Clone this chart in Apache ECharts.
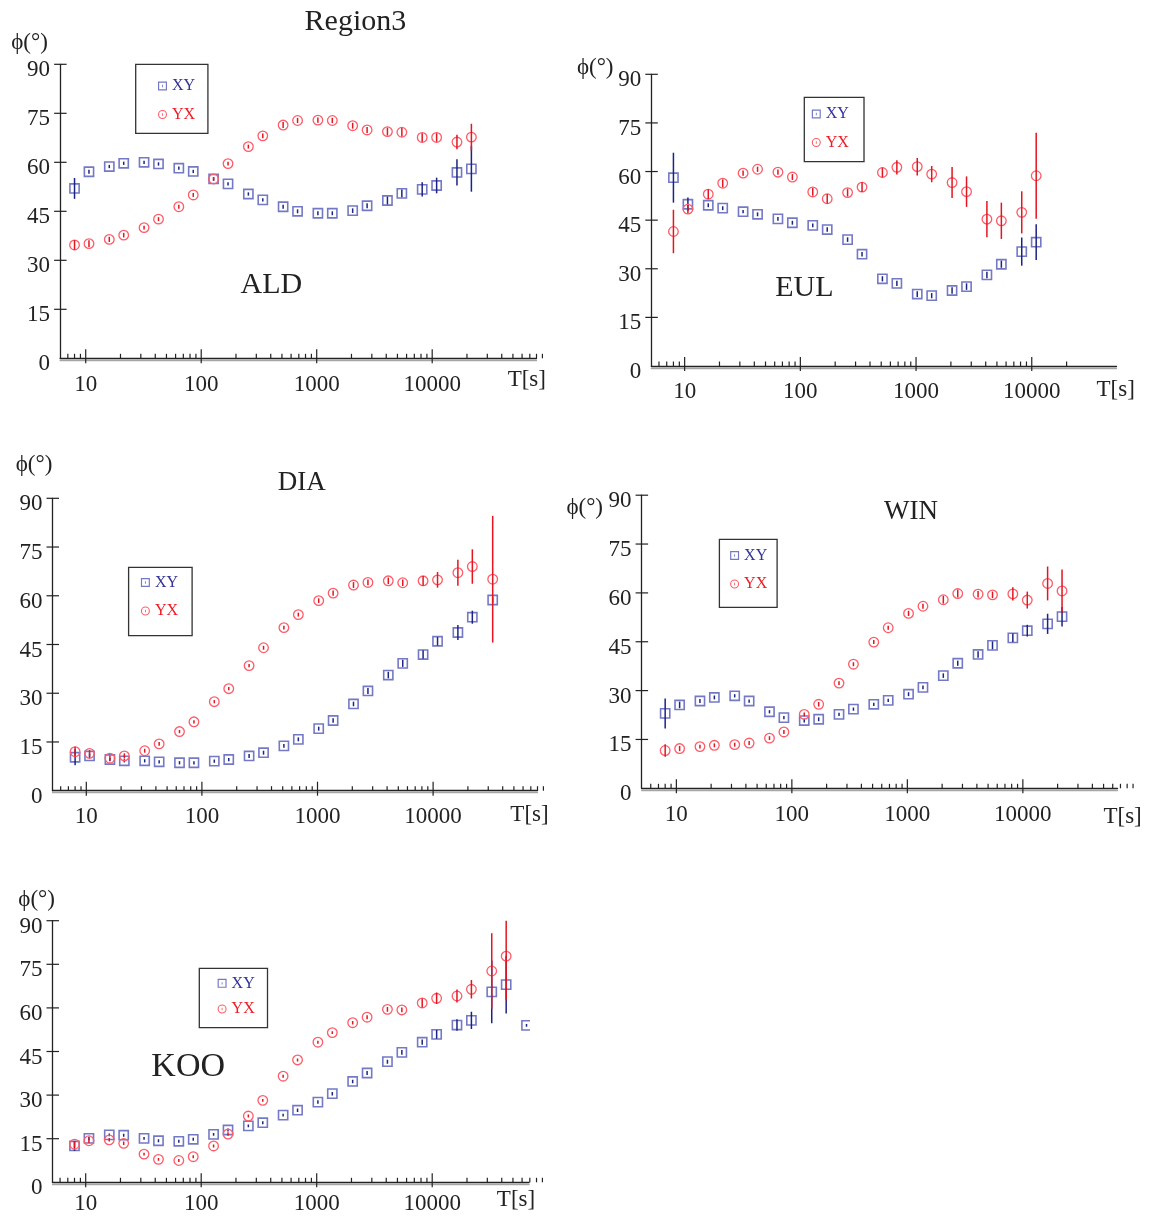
<!DOCTYPE html>
<html>
<head>
<meta charset="utf-8">
<title>Region3 phase</title>
<script src="https://cdn.jsdelivr.net/npm/echarts@6/dist/echarts.min.js"></script>
<style>
    html, body { margin: 0; padding: 0; background: #fff; }
    #chart { width: 1155px; height: 1216px; }
</style>
</head>
<body>
<div id="chart"></div>
<script>
// periods (s) shared by all stations
var periods = [8, 10.67, 16, 21.33, 32, 42.67, 64, 85.33, 128, 170.7, 256, 341.3, 512, 682.7,
    1024, 1365, 2048, 2731, 4096, 5461, 8192, 10923, 16384, 21845, 32768, 43691, 65536];
var yTicks = [0, 15, 30, 45, 60, 75, 90];

// ALD
var aldXY    = [52.0, 57.1, 58.7, 59.7, 60.0, 59.5, 58.2, 57.2, 54.9, 53.4, 50.3, 48.5, 46.4, 45.0, 44.4, 44.4, 45.2, 46.7, 48.3, 50.5, 51.7, 52.9, 56.9, 58.0];
var aldXYErr = [3.2, 0.6, 0.5, 0.5, 0.5, 0.5, 0.5, 0.5, 0.5, 0.5, 0.5, 0.5, 0.6, 0.6, 0.6, 0.6, 0.7, 0.8, 1.2, 1.2, 2.2, 2.4, 4.0, 7.0];
var aldYX    = [34.7, 35.1, 36.4, 37.7, 40.0, 42.6, 46.4, 50.0, 54.9, 59.6, 64.8, 68.1, 71.4, 72.8, 72.9, 72.8, 71.2, 69.9, 69.4, 69.2, 67.6, 67.6, 66.2, 67.7];
var aldYXErr = [1.5, 1.0, 0.8, 0.7, 0.6, 0.6, 0.6, 0.6, 0.6, 0.6, 0.6, 0.7, 0.9, 0.8, 0.8, 0.8, 0.9, 0.9, 1.2, 1.3, 1.3, 1.3, 2.2, 4.1];

// EUL
var eulXY    = [58.1, 49.9, 49.6, 48.7, 47.6, 46.8, 45.4, 44.2, 43.4, 42.1, 39.0, 34.5, 26.9, 25.5, 22.2, 21.7, 23.3, 24.5, 28.1, 31.4, 35.3, 38.2];
var eulXYErr = [7.7, 2.1, 0.6, 0.6, 0.5, 0.6, 0.6, 0.6, 0.6, 0.7, 0.7, 0.7, 0.8, 0.8, 0.9, 0.8, 1.0, 1.0, 1.0, 1.1, 4.35, 5.5];
var eulYX    = [41.5, 48.4, 53.0, 56.4, 59.5, 60.7, 59.8, 58.3, 53.7, 51.6, 53.5, 55.2, 59.7, 61.3, 61.5, 59.2, 56.6, 53.8, 45.3, 44.8, 47.4, 58.7];
var eulYXErr = [6.7, 1.3, 1.5, 1.2, 0.8, 0.8, 0.8, 0.9, 1.2, 1.5, 1.2, 1.5, 1.5, 2.2, 2.7, 2.5, 4.8, 4.7, 5.6, 5.6, 6.5, 13.3];

// DIA
var diaXY    = [10.3, 10.7, 9.6, 9.2, 9.2, 8.9, 8.6, 8.6, 9.1, 9.6, 10.7, 11.7, 13.8, 15.8, 19.1, 21.6, 26.7, 30.7, 35.6, 39.2, 41.9, 46.0, 48.7, 53.4, 58.7];
var diaXYErr = [2.5, 0.8, 0.5, 0.5, 0.5, 0.5, 0.5, 0.5, 0.5, 0.5, 0.6, 0.6, 0.6, 0.6, 0.6, 0.7, 0.7, 0.9, 1.0, 1.1, 1.3, 1.3, 2.3, 2.0, 1.0];
var diaYX    = [12.0, 11.5, 10.0, 10.7, 12.3, 14.4, 18.2, 21.2, 27.4, 31.4, 38.5, 44.0, 50.2, 54.2, 58.5, 60.8, 63.3, 64.1, 64.6, 64.0, 64.6, 64.9, 67.1, 69.0, 65.1];
var diaYXErr = [1.5, 1.0, 0.8, 0.8, 0.6, 0.6, 0.5, 0.5, 0.5, 0.5, 0.5, 0.6, 0.6, 0.6, 0.7, 0.8, 0.9, 0.9, 1.0, 1.0, 1.5, 2.4, 4.0, 5.3, 19.5];

// WIN
var winXY    = [23.0, 25.6, 26.8, 27.9, 28.4, 26.8, 23.5, 21.7, 20.8, 21.2, 22.7, 24.3, 25.8, 27.0, 28.9, 31.0, 34.6, 38.4, 41.1, 43.9, 46.2, 48.4, 50.5, 52.7];
var winXYErr = [4.6, 1.0, 0.6, 0.6, 0.5, 0.5, 0.5, 0.5, 0.6, 0.6, 0.5, 0.5, 0.5, 0.5, 0.6, 0.6, 0.7, 0.8, 1.0, 1.2, 1.3, 1.8, 3.1, 3.0];
var winYX    = [11.6, 12.2, 12.8, 13.2, 13.4, 13.9, 15.4, 17.3, 22.7, 25.8, 32.3, 38.1, 44.9, 49.3, 53.7, 55.9, 57.9, 59.8, 59.6, 59.4, 59.7, 57.8, 62.9, 60.6];
var winYXErr = [1.9, 0.8, 0.6, 0.6, 0.6, 0.6, 0.6, 0.6, 0.6, 0.7, 0.6, 0.6, 0.6, 0.6, 0.8, 0.8, 1.2, 1.2, 1.0, 1.0, 2.0, 2.6, 5.2, 6.6];

// KOO
var kooXY    = [12.5, 15.1, 16.3, 16.2, 15.1, 14.3, 14.1, 14.8, 16.5, 18.0, 19.4, 20.5, 23.1, 24.8, 27.6, 30.5, 34.7, 37.6, 41.5, 44.7, 48.2, 50.9, 54.1, 55.7, 65.5, 68.0, 54.0];
var kooXYErr = [1.7, 0.6, 0.5, 0.5, 0.5, 0.5, 0.5, 0.5, 0.5, 0.5, 0.5, 0.5, 0.5, 0.6, 0.6, 0.6, 0.6, 0.7, 0.7, 0.8, 0.9, 1.5, 2.0, 3.0, 10.8, 9.9, 0.5];
var kooYX    = [13.1, 14.3, 14.6, 13.4, 9.7, 7.9, 7.5, 8.8, 12.5, 16.6, 22.8, 28.2, 36.5, 42.1, 48.2, 51.5, 54.9, 56.8, 59.5, 59.3, 61.7, 63.3, 64.1, 66.4, 72.7, 77.8];
var kooYXErr = [1.0, 0.8, 0.6, 0.6, 0.5, 0.5, 0.5, 0.5, 0.5, 0.6, 0.5, 0.5, 0.5, 0.5, 0.5, 0.5, 0.6, 0.7, 0.8, 0.8, 1.5, 2.0, 2.2, 3.2, 13.0, 15.2];

var SERIF   = '"Liberation Serif", "Times New Roman", serif';
var INK     = '#222';
var XY_MARK = '#7479c6', XY_BAR = '#1d2384', XY_TEXT = '#33339a';
var YX_MARK = '#ff5b68', YX_BAR = '#e5141e', YX_TEXT = '#ee1c25';

// ring icons with the little centre bar, for the legends
var SQUARE_ICON = 'path://M0,0H10V10H0Z M1.3,1.3V8.7H8.7V1.3Z M4.5,3.7H5.5V6.3H4.5Z';
var CIRCLE_ICON = 'path://M0,5A5,5,0,1,1,10,5A5,5,0,1,1,0,5Z M1.2,5A3.8,3.8,0,1,0,8.8,5A3.8,3.8,0,1,0,1.2,5Z M4.5,3.7H5.5V6.3H4.5Z';

var panels = [
    { grid: { left: 60.1, top: 64.3, width: 476.4, height: 294 }, xMin: 6, xMax: 80000, tickFrom: 7, tickTo: 90000, xMargin: 15, clip: false,
      legend: { left: 135.7, top: 64.3, pad: [13.7, 12.8, 10.8, 22.3], gap: 12.5 },
      xy: [aldXY, aldXYErr], yx: [aldYX, aldYXErr] },
    { grid: { left: 651.3, top: 74.3, width: 465.2, height: 291.7 }, xMin: 5.15, xMax: 54000, tickFrom: 6, tickTo: 20000, xMargin: 14, clip: false,
      legend: { left: 804.3, top: 97.3, pad: [8.7, 15.1, 11.2, 7.5], gap: 12.5 },
      xy: [eulXY, eulXYErr], yx: [eulYX, eulYXErr] },
    { grid: { left: 52.5, top: 498.3, width: 485, height: 292.4 }, xMin: 5.1, xMax: 80000, tickFrom: 6, tickTo: 90000, xMargin: 14.5, clip: false,
      legend: { left: 128.6, top: 567.3, pad: [7.2, 14.1, 16.7, 12.3], gap: 12.5 },
      xy: [diaXY, diaXYErr], yx: [diaYX, diaYXErr] },
    { grid: { left: 641.6, top: 495.2, width: 475.9, height: 293.1 }, xMin: 5, xMax: 66000, tickFrom: 6, tickTo: 90000, xMargin: 15, clip: false,
      legend: { left: 719.4, top: 539.3, pad: [8.2, 9.9, 15.3, 10.7], gap: 12.5 },
      xy: [winXY, winXYErr], yx: [winYX, winYXErr] },
    { grid: { left: 52.5, top: 920.7, width: 476.6, height: 261.6 }, xMin: 5.16, xMax: 69000, tickFrom: 6, tickTo: 90000, xMargin: 10, clip: true,
      legend: { left: 199.3, top: 968.3, pad: [7, 12.8, 10.7, 18.3], gap: 9.7 },
      xy: [kooXY, kooXYErr], yx: [kooYX, kooYXErr] }
];

var texts = [
    { text: 'Region3', x: 355.4, y: 21.7, size: 30 },
    { text: 'ALD', x: 271.4, y: 285, size: 30 },
    { text: 'EUL', x: 804.3, y: 288, size: 30 },
    { text: 'DIA', x: 301.8, y: 483.3, size: 27 },
    { text: 'WIN', x: 911, y: 511.7, size: 27 },
    { text: 'KOO', x: 188.2, y: 1066.7, size: 34 },
    { text: 'ϕ(°)', x: 29.5, y: 43, size: 23 },
    { text: 'ϕ(°)', x: 595.2, y: 68.3, size: 23 },
    { text: 'ϕ(°)', x: 34, y: 465, size: 23 },
    { text: 'ϕ(°)', x: 584.7, y: 508.3, size: 23 },
    { text: 'ϕ(°)', x: 36.6, y: 900, size: 23 },
    { text: 'T[s]', x: 526.8, y: 380, size: 23 },
    { text: 'T[s]', x: 1115.7, y: 390, size: 23 },
    { text: 'T[s]', x: 529.5, y: 815, size: 23 },
    { text: 'T[s]', x: 1122.6, y: 816.7, size: 23 },
    { text: 'T[s]', x: 516, y: 1200, size: 23 }
];

function pointSeries(name, gi, vals, errs, square, clip) {
    var mark = square ? XY_MARK : YX_MARK;
    var bar  = square ? XY_BAR : YX_BAR;
    return {
        type: 'custom',
        name: name,
        xAxisIndex: gi,
        yAxisIndex: gi,
        clip: clip,
        silent: true,
        z: square ? 4 : 5,
        itemStyle: { color: mark },
        encode: { x: 0, y: 1 },
        data: vals.map(function (v, i) { return [periods[i], v, errs[i]]; }),
        renderItem: function (params, api) {
            var t = api.value(0), v = api.value(1), e = api.value(2);
            var c  = api.coord([t, v]);
            var hi = api.coord([t, v + e]);
            var lo = api.coord([t, v - e]);
            var shape = square
                ? { type: 'rect', shape: { x: c[0] - 4.6, y: c[1] - 4.6, width: 9.2, height: 9.2 },
                    style: { fill: 'none', stroke: mark, lineWidth: 1.6 } }
                : { type: 'circle', shape: { cx: c[0], cy: c[1], r: 4.8 },
                    style: { fill: 'none', stroke: mark, lineWidth: 1.3 } };
            return {
                type: 'group',
                children: [shape, {
                    type: 'line',
                    shape: { x1: c[0], y1: hi[1], x2: c[0], y2: lo[1] },
                    style: { stroke: bar, lineWidth: 1.5 }
                }]
            };
        }
    };
}

// crossing ticks drawn on the library's axes (major 10^n, minor k*10^n)
function tickSeries(gi, p) {
    var data = [];
    for (var d = 1; d <= 10000; d *= 10) {
        for (var k = 1; k <= 9; k++) {
            var v = k * d;
            if (v < p.tickFrom || v > p.tickTo) continue;
            data.push([v, 0, k === 1 ? 1 : 0, 0]);
        }
    }
    yTicks.forEach(function (y) {
        if (y > 0) data.push([p.xMin, y, 1, 1]);
    });
    return {
        type: 'custom',
        xAxisIndex: gi,
        yAxisIndex: gi,
        clip: false,
        silent: true,
        z: 3,
        encode: { x: 0, y: 1 },
        data: data,
        renderItem: function (params, api) {
            var c = api.coord([api.value(0), api.value(1)]);
            var s;
            if (api.value(3) === 1) {
                s = { x1: c[0] - 6, y1: c[1], x2: c[0] + 6.5, y2: c[1] };
            } else if (api.value(2) === 1) {
                s = { x1: c[0], y1: c[1] - 9, x2: c[0], y2: c[1] + 5 };
            } else {
                s = { x1: c[0], y1: c[1] - 4.5, x2: c[0], y2: c[1] };
            }
            return { type: 'line', shape: s, style: { stroke: INK, lineWidth: 1.2 } };
        }
    };
}

var option = {
    animation: false,
    backgroundColor: '#fff',
    grid: [],
    xAxis: [],
    yAxis: [],
    legend: [],
    series: [],
    graphic: texts.map(function (t) {
        return {
            type: 'text', x: t.x, y: t.y, silent: true,
            style: { text: t.text, fontFamily: SERIF, fontSize: t.size, fill: INK, align: 'center', verticalAlign: 'middle' }
        };
    })
};

panels.forEach(function (p, i) {
    option.grid.push(p.grid);
    option.xAxis.push({
        type: 'log', logBase: 10, gridIndex: i, min: p.xMin, max: p.xMax,
        axisLine: { show: true, onZero: false, lineStyle: { color: INK, width: 1.3, shadowColor: 'rgba(0,0,0,0.35)', shadowOffsetY: 2 } },
        axisTick: { show: false },
        splitLine: { show: false },
        axisLabel: {
            interval: 0, showMinLabel: false, showMaxLabel: false, margin: p.xMargin,
            fontFamily: SERIF, fontSize: 23, color: INK,
            formatter: function (v) { return String(Math.round(v)); }
        }
    });
    option.yAxis.push({
        type: 'value', gridIndex: i, min: 0, max: 90, interval: 15,
        axisLine: { show: true, onZero: false, lineStyle: { color: INK, width: 1.3 } },
        axisTick: { show: false },
        splitLine: { show: false },
        axisLabel: { margin: 10, verticalAlign: 'top', lineHeight: 12, fontFamily: SERIF, fontSize: 23, color: INK }
    });
    option.legend.push({
        left: p.legend.left, top: p.legend.top, orient: 'vertical',
        padding: p.legend.pad, itemGap: p.legend.gap, itemWidth: 9, itemHeight: 9,
        borderColor: '#333', borderWidth: 1.3, selectedMode: false,
        textStyle: { fontFamily: SERIF, fontSize: 16 },
        data: [
            { name: 'XY', icon: SQUARE_ICON, itemStyle: { color: XY_MARK, borderWidth: 0 }, textStyle: { color: XY_TEXT } },
            { name: 'YX', icon: CIRCLE_ICON, itemStyle: { color: YX_MARK, borderWidth: 0 }, textStyle: { color: YX_TEXT } }
        ]
    });
    option.series.push(tickSeries(i, p));
    option.series.push(pointSeries('XY', i, p.xy[0], p.xy[1], true, p.clip));
    option.series.push(pointSeries('YX', i, p.yx[0], p.yx[1], false, p.clip));
});

var chart = echarts.init(document.getElementById('chart'), null, { renderer: 'canvas' });
chart.setOption(option);
</script>
</body>
</html>
